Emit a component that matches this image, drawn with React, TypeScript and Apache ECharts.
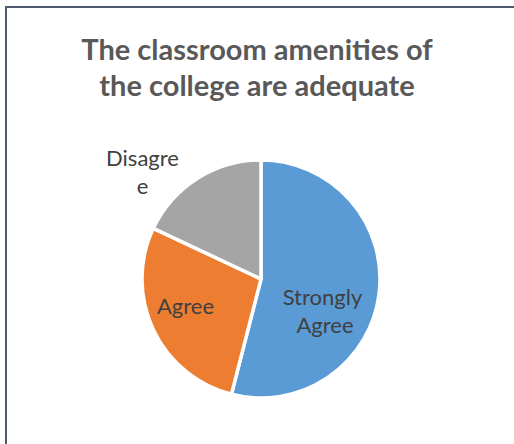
import React, { useEffect, useRef } from "react";
import * as echarts from "echarts";

const titleLines = ["The classroom amenities of", "the college are adequate"];
const categories = ["Strongly Agree", "Agree", "Disagree"];
const values = [27, 14, 9];
const colors = ["#5B9BD5", "#ED7D31", "#A5A5A5"];
const labelOffsets: number[][] = [[2, 24], [-19, 0], [-85, -55]];
const labelWidths = [90, 90, 76];

export default function App() {
  const ref = useRef<HTMLDivElement>(null);
  useEffect(() => {
    if (!ref.current) return;
    const chart = echarts.init(ref.current, null, { renderer: "svg" });
    chart.setOption({
      animation: false,
      backgroundColor: "#ffffff",
      title: {
        text: titleLines.join("\n"),
        left: "center",
        top: 30,
        padding: [0, 0, 0, 12],
        textStyle: {
          fontFamily: "Lato",
          fontWeight: "bold",
          fontSize: 29,
          lineHeight: 36,
          color: "#595959",
        },
      },
      graphic: [
        {
          type: "rect",
          shape: { x: 6, y: 7, width: 700, height: 700 },
          style: { fill: "none", stroke: "#4E5A6E", lineWidth: 2 },
          silent: true,
        },
      ],
      series: [
        {
          type: "pie",
          radius: 119,
          center: [261, 279],
          startAngle: 90,
          clockwise: true,
          silent: true,
          emphasis: { disabled: true },
          itemStyle: { borderColor: "#ffffff", borderWidth: 3.5 },
          labelLine: { show: false },
          label: {
            show: true,
            position: "inside",
            formatter: "{b}",
            fontFamily: "Lato",
            fontSize: 22,
            lineHeight: 28,
            color: "#404040",
            align: "center",
          },
          data: categories.map((name, i) => ({
            name,
            value: values[i],
            itemStyle: { color: colors[i] },
            label: {
              offset: labelOffsets[i],
              width: labelWidths[i],
              overflow: i === 2 ? "breakAll" : "break",
            },
          })),
        },
      ],
    });
    return () => chart.dispose();
  }, []);
  return (
    <div
      ref={ref}
      style={{ position: "fixed", left: 0, top: 0, width: 514, height: 444 }}
    />
  );
}
